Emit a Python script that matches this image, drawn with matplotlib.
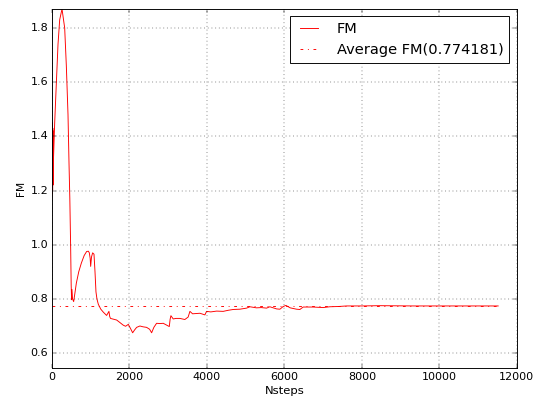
import matplotlib
matplotlib.use("Agg")
import matplotlib.pyplot as plt

# FM convergence history
steps = [0, 4, 8, 12, 16, 20, 24, 28, 34, 69, 112, 155, 198, 258, 327, 370,
         413, 439, 460, 482, 495, 505, 515, 530, 559, 590, 628, 690, 757,
         830, 894, 940, 963, 985, 998, 1020, 1049, 1084, 1110, 1135, 1160,
         1196, 1260, 1325, 1410, 1470, 1490, 1510, 1590, 1670, 1760, 1840,
         1900, 1970, 2030, 2082, 2130, 2185, 2270, 2350, 2442, 2520, 2572,
         2630, 2700, 2790, 2872, 2950, 3028, 3050, 3070, 3130, 3200, 3300,
         3430, 3515, 3561, 3630, 3720, 3820, 3948, 3990, 4100, 4250, 4420,
         4550, 4680, 4850, 5024, 5110, 5280, 5400, 5540, 5625, 5800, 5884,
         5970, 6040, 6150, 6314, 6400, 6486, 6745, 7000, 7175, 7400, 7605,
         7992, 8470, 9330, 10190, 11520]
fm = [1.18, 1.45, 1.19, 1.44, 1.2, 1.43, 1.22, 1.42, 1.3, 1.45, 1.597,
      1.74, 1.83, 1.87, 1.80, 1.66, 1.48, 1.30, 1.17, 0.984, 0.85, 0.797,
      0.835, 0.80, 0.79, 0.82, 0.858, 0.90, 0.932, 0.96, 0.975, 0.976,
      0.97, 0.95, 0.92, 0.955, 0.97, 0.965, 0.90, 0.826, 0.80, 0.78,
      0.762, 0.751, 0.739, 0.754, 0.735, 0.728, 0.725, 0.722, 0.712,
      0.703, 0.699, 0.706, 0.69, 0.675, 0.685, 0.695, 0.70, 0.697, 0.695,
      0.688, 0.675, 0.695, 0.71, 0.709, 0.71, 0.704, 0.698, 0.725, 0.738,
      0.726, 0.728, 0.728, 0.724, 0.733, 0.754, 0.745, 0.746, 0.747,
      0.741, 0.754, 0.752, 0.755, 0.754, 0.758, 0.761, 0.762, 0.766,
      0.771, 0.767, 0.768, 0.766, 0.771, 0.763, 0.762, 0.772, 0.776,
      0.767, 0.762, 0.761, 0.77, 0.77, 0.768, 0.771, 0.772, 0.774, 0.774,
      0.775, 0.774, 0.774, 0.774]
avg_fm = 0.774181

plt.style.use("classic")
fig = plt.figure(figsize=(8, 401 / 66.75), dpi=66.75, facecolor="white")
ax = fig.add_axes([0.0974, 0.0823, 0.8703, 0.8953])

ax.plot(steps, fm, color="r", lw=1.0, label="FM")
ax.plot([steps[0], steps[-1]], [avg_fm, avg_fm], "r-.", lw=1.0,
        label="Average FM(%g)" % avg_fm)

ax.set_xlim(0, 12000)
ax.set_ylim(0.545, 1.87)
ax.set_xlabel("Nsteps", fontsize=12.5)
ax.set_ylabel("FM", fontsize=11.5)
ax.grid(True)
ax.legend(loc="upper right", fontsize=15.8, handlelength=1.8,
          handletextpad=1.0, borderpad=0.4, labelspacing=0.45)

fig.savefig("out.png", dpi=66.75, facecolor="white")
